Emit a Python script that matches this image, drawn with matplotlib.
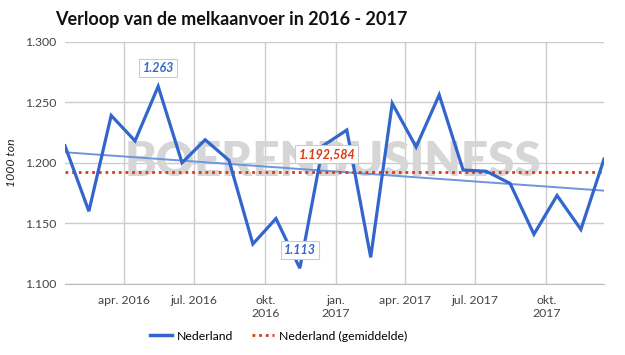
import numpy as np
import matplotlib
matplotlib.use('Agg')
import matplotlib.pyplot as plt
import matplotlib.dates as mdates
from matplotlib.ticker import FuncFormatter
from datetime import date

# Melkaanvoer Nederland, 1000 ton per maand (jan 2016 - dec 2017)
maanden = [date(2016 + i // 12, i % 12 + 1, 15) for i in range(24)]
aanvoer = [1214, 1160, 1239, 1218, 1263, 1200, 1219, 1202, 1133, 1154, 1113, 1214,
           1227, 1122, 1249, 1213, 1256, 1194, 1193, 1183, 1141, 1173, 1145, 1203]
gemiddelde = 1192.584
tick_dates = [date(2016, 4, 1), date(2016, 7, 1), date(2016, 10, 1), date(2017, 1, 1),
              date(2017, 4, 1), date(2017, 7, 1), date(2017, 10, 1)]
tick_labels = ['apr. 2016', 'jul. 2016', 'okt.\n2016', 'jan.\n2017',
               'apr. 2017', 'jul. 2017', 'okt.\n2017']
y_ticks = [1100, 1150, 1200, 1250, 1300]

blauw = '#3366cc'
rood = '#dc3912'
plt.rcParams['font.family'] = ['Lato', 'DejaVu Sans']

fig = plt.figure(figsize=(6.25, 3.55), dpi=100)
ax = fig.add_axes([0.104, 0.2, 0.8624, 0.683])

x = mdates.date2num(maanden)

# trendlijn (lineair)
coef = np.polyfit(x, aanvoer, 1)
ax.plot(maanden, np.polyval(coef, x), color='#6d94de', lw=1.4, zorder=3)

ax.axhline(gemiddelde, color=rood, lw=2.0, linestyle=(0, (1, 1.4)), zorder=4)
ax.plot(maanden, aanvoer, color=blauw, lw=2.3, zorder=5, solid_joinstyle='miter')

# watermerk
ax.text(0.497, 0.505, 'BOERENBUSINESS', transform=ax.transAxes, ha='center', va='center',
        fontsize=34, fontweight='heavy', color='#d6d6d6', zorder=2)

ax.set_xlim(x[0], x[-1])
ax.set_ylim(1100, 1300)
ax.set_yticks(y_ticks)
ax.yaxis.set_major_formatter(FuncFormatter(lambda v, p: f'{v / 1000:.3f}'))
ax.set_xticks(mdates.date2num(tick_dates))
ax.set_xticklabels(tick_labels)
ax.grid(True, color='#cccccc', lw=1)
ax.set_axisbelow(True)
for s in ['top', 'right', 'left']:
    ax.spines[s].set_visible(False)
ax.spines['bottom'].set_color('#bbbbbb')
ax.tick_params(length=0, labelsize=8.8, colors='#444444')
ax.tick_params(axis='x', pad=8)
ax.tick_params(axis='y', pad=6)
ax.set_ylabel('1000 ton', style='italic', fontsize=8.8, color='#222222', labelpad=6)

# labels bij max, min en gemiddelde
i_max = int(np.argmax(aanvoer))
i_min = int(np.argmin(aanvoer))
box = dict(boxstyle='square,pad=0.25', fc='white', ec='#cccccc', lw=0.8)
for i in (i_max, i_min):
    ax.annotate(f'{aanvoer[i] / 1000:.3f}', (x[i], aanvoer[i]), xytext=(0, 13),
                textcoords='offset points', ha='center', va='center', color=blauw,
                fontsize=9, fontweight='bold', style='italic', bbox=box, zorder=6)
gem_txt = f'{gemiddelde / 1000:.6f}'
gem_txt = gem_txt[:1] + '.' + gem_txt[2:5] + ',' + gem_txt[5:]
ax.annotate(gem_txt, (mdates.date2num(date(2016, 12, 20)), gemiddelde), xytext=(0, 13),
            textcoords='offset points', ha='center', va='center', color=rood,
            fontsize=9, fontweight='bold', style='italic', bbox=box, zorder=6)

fig.text(0.088, 0.946, 'Verloop van de melkaanvoer in 2016 - 2017', fontsize=13,
         fontweight='bold', color='#111111', va='center')

fig.legend(handles=[plt.Line2D([], [], color=blauw, lw=2.5),
                    plt.Line2D([], [], color=rood, lw=2, linestyle=(0, (1, 1.4)))],
           labels=['Nederland', 'Nederland (gemiddelde)'],
           loc='center', bbox_to_anchor=(0.446, 0.053), ncol=2, frameon=False,
           fontsize=8.8, handlelength=1.8, columnspacing=1.5, handletextpad=0.4)

fig.savefig('out.png', dpi=100)
